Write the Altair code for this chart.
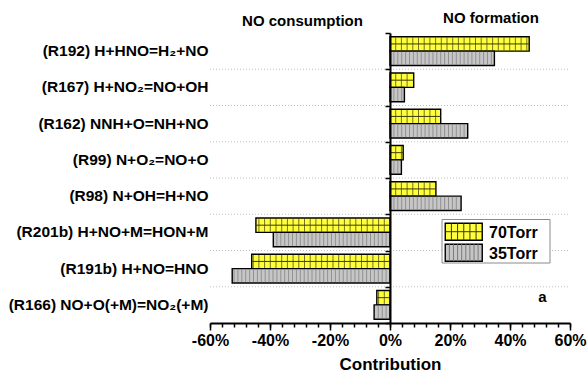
import altair as alt
import pandas as pd

# ---------------- data ----------------
reactions = [
    "(R192) H+HNO=H\u2082+NO",
    "(R167) H+NO\u2082=NO+OH",
    "(R162) NNH+O=NH+NO",
    "(R99) N+O\u2082=NO+O",
    "(R98) N+OH=H+NO",
    "(R201b) H+NO+M=HON+M",
    "(R191b) H+NO=HNO",
    "(R166) NO+O(+M)=NO\u2082(+M)",
]
torr70 = [46.4, 7.9, 16.9, 4.4, 15.3, -44.7, -46.1, -4.4]
torr35 = [34.8, 4.8, 25.9, 3.8, 23.7, -38.9, -52.6, -5.3]
series_names = ["70Torr", "35Torr"]
x_major = [-60, -40, -20, 0, 20, 40, 60]
x_minor = list(range(-60, 61, 4))
side_titles = ["NO consumption", "NO formation"]
x_title = "Contribution"
panel_tag = "a"

# ---------------- tables ----------------
rows = []
for r, a, b in zip(reactions, torr70, torr35):
    rows.append({"reaction": r, "series": series_names[0], "value": a})
    rows.append({"reaction": r, "series": series_names[1], "value": b})
df = pd.DataFrame(rows)

# hatch lines (pattern fill) drawn inside each bar
hatch_step = {series_names[0]: 1.9, series_names[1]: 1.3}
hatch = []
for row in rows:
    step = hatch_step[row["series"]]
    v = row["value"]
    sgn = 1 if v >= 0 else -1
    k = 1
    while k * step < abs(v) - 0.5:
        hatch.append({"reaction": row["reaction"], "series": row["series"], "pos": sgn * k * step})
        k += 1
hatch_df = pd.DataFrame(hatch)
mid_df = df[df["series"] == series_names[0]]
grid_df = pd.DataFrame({"reaction": reactions[:-1]})
one = pd.DataFrame({"d": [0]})

FONT = "Liberation Sans"
YELLOW = "#FFFF3C"
GRAY = "#C6C6C6"

xscale = alt.Scale(domain=[-60, 60], nice=False, zero=False)
yscale = alt.Scale(paddingInner=0, paddingOuter=0)
yo = alt.YOffset("series:N", sort=series_names,
                 scale=alt.Scale(paddingInner=0, paddingOuter=0.26))

main_x_axis = alt.Axis(
    orient="bottom", values=x_major, labelExpr="datum.value + '%'",
    tickSize=7, tickWidth=1.5, tickColor="black",
    domainColor="black", domainWidth=2,
    labelFont=FONT, labelFontSize=16, labelFontWeight="bold", labelColor="black",
    labelPadding=2, labelFlush=False, labelOverlap=False,
    title=x_title, titleFont=FONT, titleFontSize=17, titleFontWeight="bold",
    titleColor="black", titlePadding=8, grid=False, zindex=1,
)
minor_x_axis = alt.Axis(
    orient="bottom", values=x_minor, tickSize=4, tickWidth=1.5, tickColor="black",
    labels=False, domain=False, title=None, grid=False, zindex=1,
)
label_y_axis = alt.Axis(
    orient="left", title=None, ticks=False, domain=False, grid=False,
    labelFont=FONT, labelFontSize=15.5, labelFontWeight="bold", labelColor="black",
    labelPadding=2, labelLimit=0,
)
zero_y_axis = alt.Axis(
    orient="left", offset=-180, title=None, labels=False, grid=False,
    domain=True, domainColor="black", domainWidth=2,
    ticks=True, tickBand="extent", tickSize=5, tickWidth=1.5, tickColor="black",
    zindex=1,
)

grid = alt.Chart(grid_df).mark_rule(color="#c0c0c0", strokeDash=[1, 2], strokeWidth=1).encode(
    x=alt.X(datum=-60, scale=xscale, axis=None),
    x2=alt.datum(60),
    y=alt.Y("reaction:N", sort=reactions, scale=yscale, bandPosition=1, axis=zero_y_axis),
)

bars = alt.Chart(df).mark_bar(stroke="black", strokeWidth=1.4).encode(
    x=alt.X("value:Q", scale=xscale, axis=main_x_axis),
    y=alt.Y("reaction:N", sort=reactions, scale=yscale, axis=label_y_axis),
    yOffset=yo,
    fill=alt.Fill("series:N", scale=alt.Scale(domain=series_names, range=[YELLOW, GRAY]), legend=None),
)

stripes = alt.Chart(hatch_df).mark_tick(orient="vertical", thickness=1, size=13).encode(
    x=alt.X("pos:Q", scale=xscale, axis=minor_x_axis),
    y=alt.Y("reaction:N", sort=reactions, scale=yscale, axis=None),
    yOffset=yo,
    color=alt.Color("series:N", scale=alt.Scale(domain=series_names, range=["#3a3a10", "#7a7a7a"]), legend=None),
)

midline = alt.Chart(mid_df).mark_rule(color="#3a3a10", strokeWidth=1).encode(
    x=alt.X("value:Q", scale=xscale, axis=None),
    x2=alt.datum(0),
    y=alt.Y("reaction:N", sort=reactions, scale=yscale, axis=None),
    yOffset=yo,
)

# ---------- manual legend with patterned swatches ----------
W, H = 1.0, 0.459
rect_path = f"M{-W},{-H}H{W}V{H}H{-W}Z"
ygrid_path = "".join(f"M{-1 + k / 3:.4f},{-H}V{H}" for k in range(1, 6)) + f"M{-W},0H{W}"
gstripe_path = "".join(f"M{-1 + 2 * k / 9:.4f},{-H}V{H}" for k in range(1, 9))
SW = 37 ** 2

legend_box = alt.Chart(one).mark_rect(fill="white", stroke="#8a8a8a", strokeWidth=1).encode(
    x=alt.value(232), x2=alt.value(340), y=alt.value(186.5), y2=alt.value(230),
)
sw_y_fill = alt.Chart(one).mark_point(shape=rect_path, size=SW, filled=True, fill=YELLOW, opacity=1,
                                      stroke="black", strokeWidth=1.4).encode(
    x=alt.value(253.75), y=alt.value(198.7))
sw_y_grid = alt.Chart(one).mark_point(shape=ygrid_path, size=SW, filled=False, stroke="#3a3a10",
                                      strokeWidth=1, opacity=1).encode(
    x=alt.value(253.75), y=alt.value(198.7))
sw_g_fill = alt.Chart(one).mark_point(shape=rect_path, size=SW, filled=True, fill=GRAY, opacity=1,
                                      stroke="black", strokeWidth=1.4).encode(
    x=alt.value(253.75), y=alt.value(219.7))
sw_g_lines = alt.Chart(one).mark_point(shape=gstripe_path, size=SW, filled=False, stroke="#7a7a7a",
                                       strokeWidth=1, opacity=1).encode(
    x=alt.value(253.75), y=alt.value(219.7))

def label(txt, x, y, size=16, align="left", baseline="middle"):
    return alt.Chart(one).mark_text(text=txt, font=FONT, fontSize=size, fontWeight="bold",
                                    color="black", align=align, baseline=baseline).encode(
        x=alt.value(x), y=alt.value(y))

lab70 = label(series_names[0], 279, 199.5)
lab35 = label(series_names[1], 279, 220.5)
t_cons = label(side_titles[0], 92.5, -7, size=15, align="center", baseline="alphabetic")
t_form = label(side_titles[1], 281, -10, size=15, align="center", baseline="alphabetic")
t_tag = label(panel_tag, 332.5, 264, size=15, align="center")

chart = alt.layer(
    grid, bars, stripes, midline,
    legend_box, sw_y_fill, sw_y_grid, sw_g_fill, sw_g_lines,
    lab70, lab35, t_cons, t_form, t_tag,
).resolve_axis(x="independent", y="independent").properties(
    width=360, height=290,
    padding={"left": 210, "top": 33, "right": 17, "bottom": 52},
    autosize=alt.AutoSizeParams(type="none"),
    background="white",
).configure_view(stroke=None)

chart.save("out.html", embed_options={"renderer": "svg", "actions": False})
